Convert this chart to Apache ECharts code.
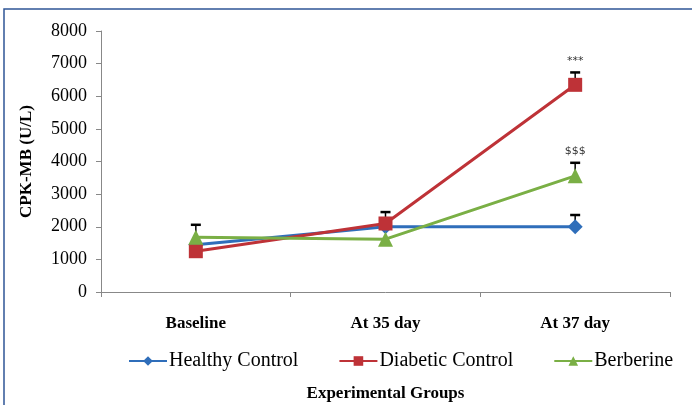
<!DOCTYPE html>
<html><head><meta charset="utf-8">
<script src="https://cdn.jsdelivr.net/npm/echarts@6/dist/echarts.min.js"></script>
<style>html,body{margin:0;padding:0;background:#fff}#c{width:692px;height:405px}</style>
</head><body><div id="c"></div>
<script>
var categories = ['Baseline', 'At 35 day', 'At 37 day'];
var healthy = [1450, 2000, 2000];
var diabetic = [1250, 2100, 6350];
var berberine = [1680, 1620, 3560];
var healthyErr = [null, null, 360];
var diabeticErr = [null, 350, 380];
var berberineErr = [380, null, 400];
var yTicks = [0, 1000, 2000, 3000, 4000, 5000, 6000, 7000, 8000];
var annotations = [{cat: 2, value: 6350, err: 380, text: '***'}, {cat: 2, value: 3560, err: 400, text: '$$$'}];

var serif = '"Liberation Serif", "Times New Roman", serif';
var colors = ['#2F6EBA', '#BE3237', '#7AAF45'];

function errData(vals, errs) {
  var out = [];
  vals.forEach(function (v, i) { if (errs[i] != null) out.push([i, v, v + errs[i]]); });
  return out;
}
function errSeries(vals, errs) {
  return {
    type: 'custom', silent: true, z: 1,
    renderItem: function (params, api) {
      var x = api.value(0), lo = api.coord([x, api.value(1)]), hi = api.coord([x, api.value(2)]);
      return {type: 'group', children: [
        {type: 'line', shape: {x1: lo[0], y1: lo[1], x2: hi[0], y2: hi[1]}, style: {stroke: '#000', lineWidth: 1.5}},
        {type: 'line', shape: {x1: hi[0] - 5, y1: hi[1], x2: hi[0] + 5, y2: hi[1]}, style: {stroke: '#000', lineWidth: 2.5}}
      ]};
    },
    data: errData(vals, errs)
  };
}
function lineSeries(name, data, symbol, size, color) {
  return {name: name, type: 'line', data: data, symbol: symbol, symbolSize: size, z: 3,
    lineStyle: {width: 3, color: color}, itemStyle: {color: color}};
}

var chart = echarts.init(document.getElementById('c'));
chart.setOption({
  animation: false,
  grid: {left: 101, right: 22, top: 31, bottom: 113, outerBoundsMode: 'none', containLabel: false},
  graphic: [{type: 'rect', shape: {x: 4, y: 9, width: 700, height: 410}, style: {fill: 'none', stroke: '#2F5597', lineWidth: 1.5}, silent: true}],
  legend: {
    bottom: 34, left: 128, padding: 0, itemGap: 40, itemWidth: 38, itemHeight: 12,
    textStyle: {fontFamily: serif, fontSize: 20, color: '#000', padding: [0, 0, 0, -3]},
    data: ['Healthy Control', 'Diabetic Control', 'Berberine']
  },
  xAxis: {
    type: 'category', data: categories, boundaryGap: true,
    name: 'Experimental Groups', nameLocation: 'middle', nameGap: 93,
    nameTextStyle: {fontFamily: serif, fontSize: 17, fontWeight: 'bold', color: '#000'},
    axisLine: {lineStyle: {color: '#888', width: 1}},
    axisTick: {show: true, alignWithLabel: false, length: 5, lineStyle: {color: '#888'}},
    axisLabel: {fontFamily: serif, fontSize: 17, fontWeight: 'bold', color: '#000', margin: 23}
  },
  yAxis: {
    type: 'value', min: 0, max: 8000, interval: 1000,
    name: 'CPK-MB (U/L)', nameLocation: 'middle', nameGap: 66,
    nameTextStyle: {fontFamily: serif, fontSize: 17, fontWeight: 'bold', color: '#000'},
    axisLine: {show: true, lineStyle: {color: '#888', width: 1}},
    axisTick: {show: true, length: 5, lineStyle: {color: '#888'}},
    splitLine: {show: false},
    axisLabel: {fontFamily: serif, fontSize: 18, color: '#000', margin: 14,
      formatter: function (v) { return yTicks.indexOf(v) >= 0 ? String(v) : ''; }}
  },
  series: [
    errSeries(healthy, healthyErr),
    errSeries(diabetic, diabeticErr),
    errSeries(berberine, berberineErr),
    lineSeries('Healthy Control', healthy, 'diamond', 15, colors[0]),
    lineSeries('Diabetic Control', diabetic, 'rect', 14, colors[1]),
    lineSeries('Berberine', berberine, 'triangle', 15, colors[2]),
    {
      type: 'custom', silent: true, z: 4,
      renderItem: function (params, api) {
        var p = api.coord([api.value(0), api.value(1) + api.value(2)]);
        return {type: 'text', x: p[0], y: p[1] - 6, style: {text: annotations[params.dataIndex].text, textAlign: 'center', textVerticalAlign: 'bottom', fontFamily: '"DejaVu Sans", sans-serif', fontSize: 11, fill: '#333'}};
      },
      data: annotations.map(function (a) { return [a.cat, a.value, a.err]; })
    }
  ]
});
</script></body></html>
